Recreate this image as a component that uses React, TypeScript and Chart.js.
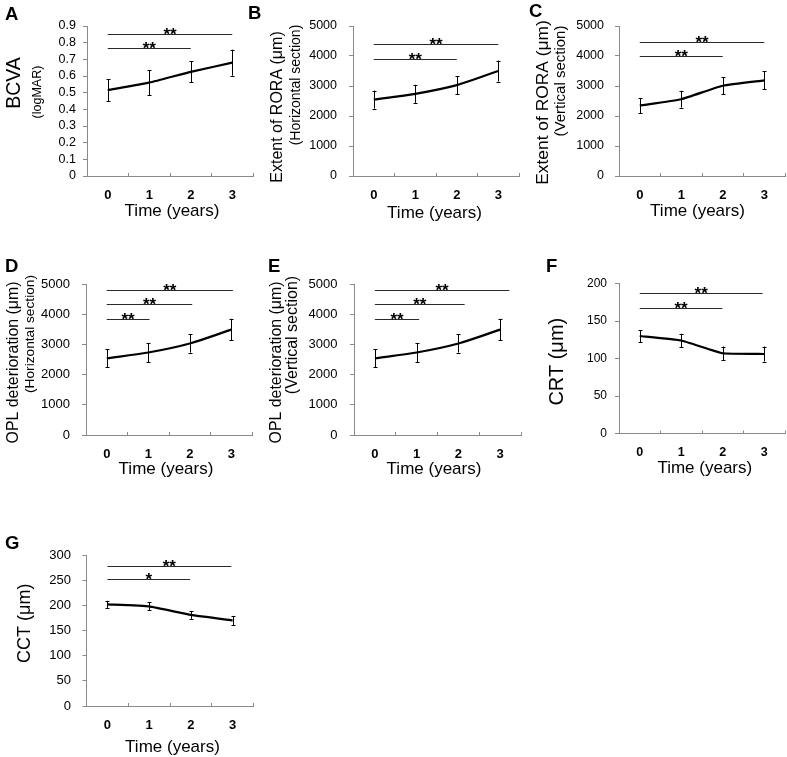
import React, { useEffect, useRef } from "react";
import { Chart, registerables } from "chart.js";

Chart.register(...registerables);

// ---- data ----
const years = ["0", "1", "2", "3"];

const bcvaMean = [0.515, 0.56, 0.625, 0.68];
const bcvaErr = [0.065, 0.075, 0.063, 0.078];

const roraHMean = [2550, 2740, 3030, 3500];
const roraHErr = [300, 300, 300, 350];

const roraVMean = [2350, 2560, 3010, 3190];
const roraVErr = [250, 280, 280, 300];

const oplHMean = [2550, 2740, 3040, 3500];
const oplHErr = [300, 320, 300, 360];

const oplVMean = [2550, 2740, 3040, 3500];
const oplVErr = [300, 320, 300, 360];

const crtMean = [130, 124, 107, 106];
const crtErr = [8, 9, 9, 10];

const cctMean = [202, 198, 181, 170];
const cctErr = [7, 8, 8, 9];

// significance brackets: [from year, to year, height, mark]
const bcvaSig: [number, number, number, string][] = [[0, 3, 0.852, "**"], [0, 2, 0.766, "**"]];
const roraHSig: [number, number, number, string][] = [[0, 3, 4400, "**"], [0, 2, 3900, "**"]];
const roraVSig: [number, number, number, string][] = [[0, 3, 4480, "**"], [0, 2, 4000, "**"]];
const oplHSig: [number, number, number, string][] = [[0, 3.04, 4810, "**"], [0, 2.06, 4340, "**"], [0, 1.03, 3840, "**"]];
const oplVSig: [number, number, number, string][] = [[0, 3.22, 4810, "**"], [0, 2.15, 4340, "**"], [0, 1.06, 3850, "**"]];
const crtSig: [number, number, number, string][] = [[0, 2.96, 187, "**"], [0, 1.99, 168, "**"]];
const cctSig: [number, number, number, string][] = [[0, 2.97, 279, "**"], [0, 1.98, 252, "*"]];

// y-axis tick values
const bcvaTicks = [0, 0.1, 0.2, 0.3, 0.4, 0.5, 0.6, 0.7, 0.8, 0.9];
const micronTicks = [0, 1000, 2000, 3000, 4000, 5000];
const crtTicks = [0, 50, 100, 150, 200];
const cctTicks = [0, 50, 100, 150, 200, 250, 300];

const W = 787;
const H = 757;
const FONT = '"Liberation Sans", Arial, Helvetica, sans-serif';
const AXIS = "#8a8a8a";

type TitleLine = { text: string; size: number; cx: number; cy: number };

type Panel = {
  letter: string;
  letterPos: [number, number];
  area: { left: number; top: number; right: number; bottom: number };
  mean: number[];
  err: number[];
  sig: [number, number, number, string][];
  ticks: number[];
  tension: number;
  yTitle: TitleLine[];
  yFont: number;
  yPad: number;
  xFont: number;
  xTitle: { cx: number; base: number };
};

const panels: Panel[] = [
  {
    letter: "A", letterPos: [5, 20],
    area: { left: 87, top: 26, right: 253, bottom: 176 },
    mean: bcvaMean, err: bcvaErr, sig: bcvaSig, ticks: bcvaTicks, tension: 0.15,
    yTitle: [
      { text: "BCVA", size: 19.5, cx: 15, cy: 83 },
      { text: "(logMAR)", size: 12.5, cx: 37.5, cy: 92 },
    ],
    yFont: 12.5, yPad: 7, xFont: 13, xTitle: { cx: 172, base: 216 },
  },
  {
    letter: "B", letterPos: [248, 19],
    area: { left: 353, top: 26, right: 519, bottom: 176 },
    mean: roraHMean, err: roraHErr, sig: roraHSig, ticks: micronTicks, tension: 0.3,
    yTitle: [
      { text: "Extent of RORA (\u03bcm)", size: 16, cx: 277.5, cy: 107 },
      { text: "(Horizontal section)", size: 14, cx: 296.5, cy: 85 },
    ],
    yFont: 12.5, yPad: 12, xFont: 13, xTitle: { cx: 434.5, base: 217.5 },
  },
  {
    letter: "C", letterPos: [529, 17],
    area: { left: 619, top: 26, right: 785, bottom: 176 },
    mean: roraVMean, err: roraVErr, sig: roraVSig, ticks: micronTicks, tension: 0.15,
    yTitle: [
      { text: "Extent of RORA (\u03bcm)", size: 17.4, cx: 543.5, cy: 102.5 },
      { text: "(Vertical section)", size: 15, cx: 560.5, cy: 81 },
    ],
    yFont: 12.5, yPad: 11, xFont: 13, xTitle: { cx: 697.5, base: 216 },
  },
  {
    letter: "D", letterPos: [5, 272],
    area: { left: 86, top: 284.5, right: 252, bottom: 435 },
    mean: oplHMean, err: oplHErr, sig: oplHSig, ticks: micronTicks, tension: 0.3,
    yTitle: [
      { text: "OPL deterioration (\u03bcm)", size: 15.9, cx: 14, cy: 362.5 },
      { text: "(Horizontal section)", size: 13.7, cx: 30.5, cy: 334 },
    ],
    yFont: 13, yPad: 12, xFont: 13, xTitle: { cx: 166, base: 474 },
  },
  {
    letter: "E", letterPos: [268, 272],
    area: { left: 354, top: 284.5, right: 521, bottom: 435 },
    mean: oplVMean, err: oplVErr, sig: oplVSig, ticks: micronTicks, tension: 0.3,
    yTitle: [
      { text: "OPL deterioration (\u03bcm)", size: 15.9, cx: 276.5, cy: 362.5 },
      { text: "(Vertical section)", size: 16, cx: 293, cy: 335 },
    ],
    yFont: 13, yPad: 12.5, xFont: 13, xTitle: { cx: 434, base: 474 },
  },
  {
    letter: "F", letterPos: [546, 272],
    area: { left: 619, top: 283.5, right: 785, bottom: 433.5 },
    mean: crtMean, err: crtErr, sig: crtSig, ticks: crtTicks, tension: 0.1,
    yTitle: [{ text: "CRT (\u03bcm)", size: 20, cx: 557, cy: 361.7 }],
    yFont: 12, yPad: 8, xFont: 12.5, xTitle: { cx: 704.8, base: 472.5 },
  },
  {
    letter: "G", letterPos: [5, 548.5],
    area: { left: 86.5, top: 555, right: 253.5, bottom: 706 },
    mean: cctMean, err: cctErr, sig: cctSig, ticks: cctTicks, tension: 0.1,
    yTitle: [{ text: "CCT (\u03bcm)", size: 18, cx: 25, cy: 623.3 }],
    yFont: 13, yPad: 11.5, xFont: 13, xTitle: { cx: 172.5, base: 752 },
  },
];

// draws panel letter, axis titles, error bars and significance brackets
const decorPlugin = {
  id: "panelDecor",
  afterDatasetsDraw(chart: any, _args: any, opts: any) {
    const p: Panel = opts.panel;
    if (!p) return;
    const ctx = chart.ctx as CanvasRenderingContext2D;
    const xs = chart.scales.x;
    const ys = chart.scales.y;
    const x0 = xs.getPixelForValue(0);
    const step = xs.getPixelForValue(1) - x0;
    const xAt = (v: number) => x0 + v * step;

    ctx.save();
    // error bars
    ctx.strokeStyle = "#000";
    ctx.lineWidth = 1;
    p.mean.forEach((m, i) => {
      const x = Math.round(xAt(i)) + 0.5;
      const yt = ys.getPixelForValue(m + p.err[i]);
      const yb = ys.getPixelForValue(m - p.err[i]);
      ctx.beginPath();
      ctx.moveTo(x, yt);
      ctx.lineTo(x, yb);
      ctx.moveTo(x - 2, Math.round(yt) + 0.5);
      ctx.lineTo(x + 2, Math.round(yt) + 0.5);
      ctx.moveTo(x - 2, Math.round(yb) + 0.5);
      ctx.lineTo(x + 2, Math.round(yb) + 0.5);
      ctx.stroke();
    });

    // significance brackets
    p.sig.forEach(([a, b, v, mark]) => {
      const y = Math.round(ys.getPixelForValue(v)) + 0.5;
      const xa = xAt(a);
      const xb = xAt(b);
      ctx.strokeStyle = "#2a2a2a";
      ctx.lineWidth = 1.1;
      ctx.beginPath();
      ctx.moveTo(xa, y);
      ctx.lineTo(xb, y);
      ctx.stroke();
      ctx.fillStyle = "#000";
      ctx.font = `bold 17px ${FONT}`;
      ctx.textAlign = "center";
      ctx.textBaseline = "alphabetic";
      ctx.fillText(mark, (xa + xb) / 2, y + 5);
    });

    // y titles (rotated)
    ctx.fillStyle = "#000";
    p.yTitle.forEach((t) => {
      ctx.save();
      ctx.translate(t.cx, t.cy);
      ctx.rotate(-Math.PI / 2);
      ctx.font = `${t.size}px ${FONT}`;
      ctx.textAlign = "center";
      ctx.textBaseline = "middle";
      ctx.fillText(t.text, 0, 0);
      ctx.restore();
    });

    // x title
    ctx.font = `17px ${FONT}`;
    ctx.textAlign = "center";
    ctx.textBaseline = "alphabetic";
    ctx.fillText("Time (years)", p.xTitle.cx, p.xTitle.base);

    // panel letter
    ctx.font = `bold 18.5px ${FONT}`;
    ctx.textAlign = "left";
    ctx.fillText(p.letter, p.letterPos[0], p.letterPos[1]);
    ctx.restore();
  },
};

function PanelChart({ p }: { p: Panel }) {
  const ref = useRef<HTMLCanvasElement | null>(null);
  useEffect(() => {
    if (!ref.current) return;
    const a = p.area;
    const chart = new Chart(ref.current, {
      type: "line",
      data: {
        labels: years,
        datasets: [
          {
            data: p.mean,
            borderColor: "#000",
            borderWidth: 2.2,
            pointRadius: 0,
            tension: p.tension,
            fill: false,
          },
        ],
      },
      options: {
        animation: false,
        responsive: false,
        devicePixelRatio: 1,
        events: [],
        layout: { padding: { left: 0, top: a.top, right: W - a.right, bottom: 0 } },
        plugins: {
          legend: { display: false },
          tooltip: { enabled: false },
          panelDecor: { panel: p },
        } as any,
        scales: {
          x: {
            type: "category",
            offset: true,
            grid: {
              display: true,
              offset: true,
              drawOnChartArea: false,
              drawTicks: true,
              tickLength: -3,
              color: AXIS,
              lineWidth: 1,
            },
            border: { display: true, color: AXIS, width: 1 },
            ticks: {
              padding: 15,
              color: "#000",
              maxRotation: 0,
              autoSkip: false,
              font: { family: FONT, size: p.xFont, weight: "bold" },
            },
            afterFit: (s: any) => {
              s.height = H - a.bottom;
            },
          },
          y: {
            min: 0,
            max: p.ticks[p.ticks.length - 1],
            grid: {
              display: true,
              drawOnChartArea: false,
              drawTicks: true,
              tickLength: 4,
              color: AXIS,
              lineWidth: 1,
            },
            border: { display: true, color: AXIS, width: 1 },
            afterBuildTicks: (s: any) => {
              s.ticks = p.ticks.map((v) => ({ value: v }));
            },
            ticks: {
              autoSkip: false,
              padding: p.yPad,
              color: "#000",
              font: { family: FONT, size: p.yFont },
              callback: (v: any) => String(Math.round(Number(v) * 1000) / 1000),
            },
            afterFit: (s: any) => {
              s.width = a.left;
            },
          },
        },
      } as any,
      plugins: [decorPlugin],
    });
    return () => chart.destroy();
  }, [p]);
  return (
    <canvas
      ref={ref}
      width={W}
      height={H}
      style={{ position: "absolute", left: 0, top: 0, width: W, height: H }}
    />
  );
}

export default function App() {
  return (
    <div style={{ position: "absolute", left: 0, top: 0, width: W, height: H, background: "#fff" }}>
      {panels.map((p) => (
        <PanelChart key={p.letter} p={p} />
      ))}
    </div>
  );
}
